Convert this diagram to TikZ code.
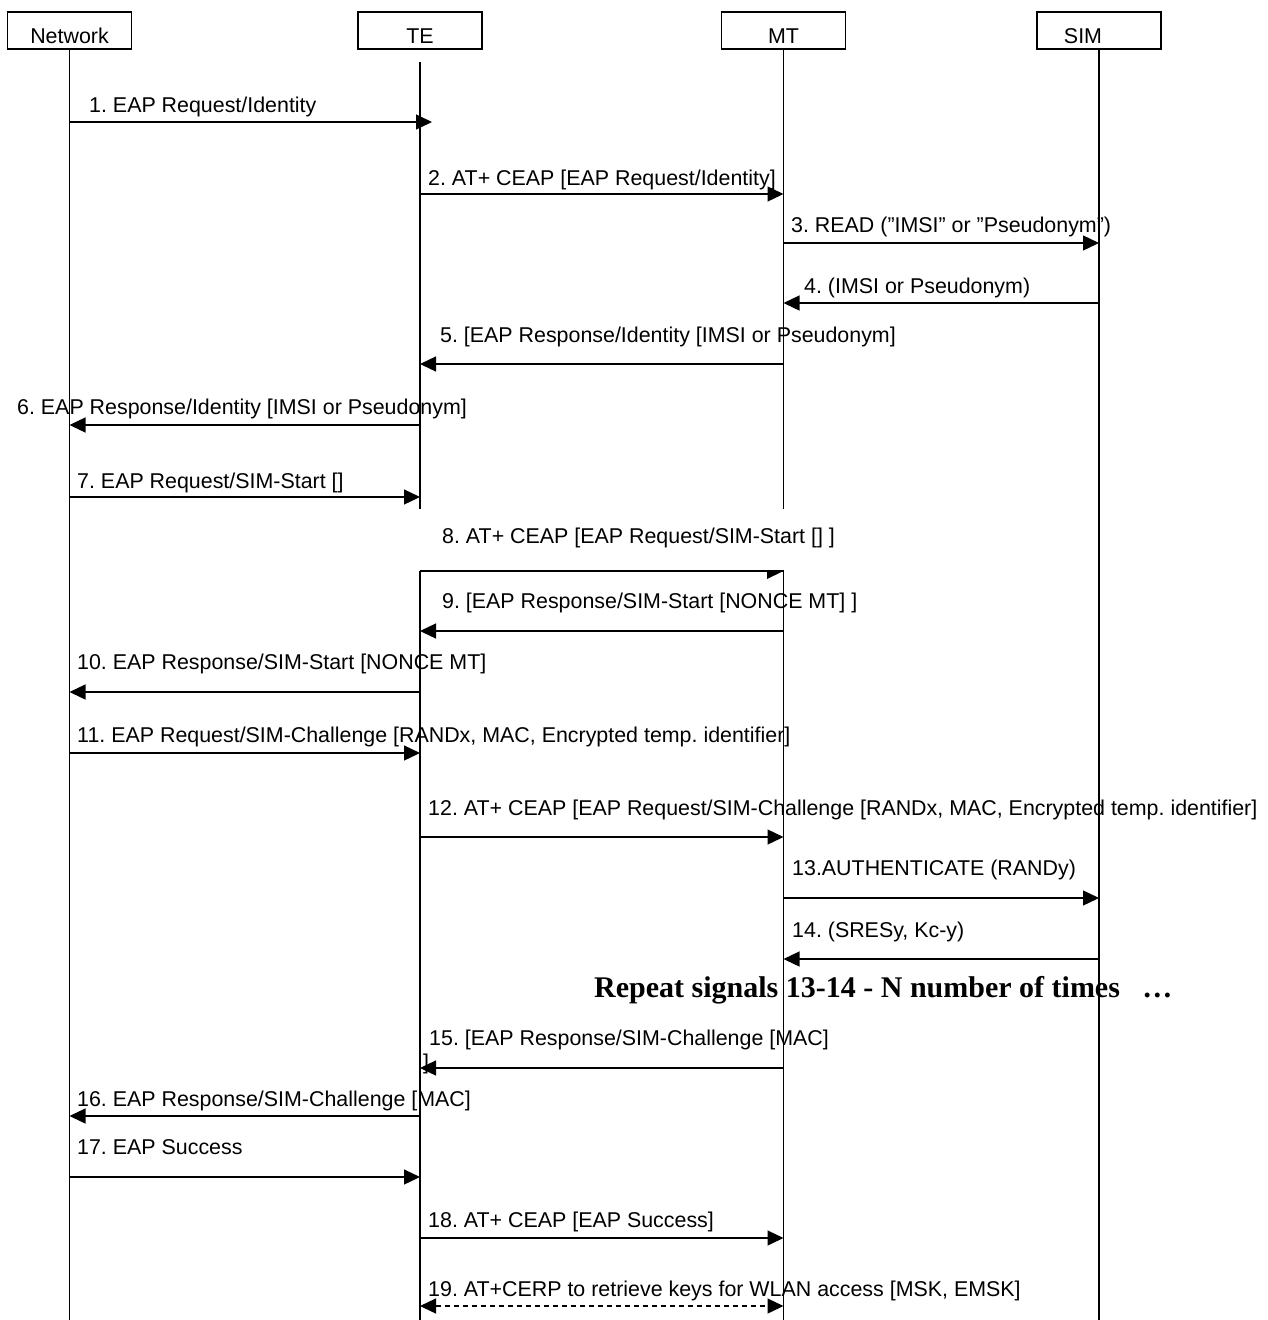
\documentclass[tikz,border=0pt]{standalone}
\usepackage{fontspec}
\setmainfont{Liberation Sans}
\newfontfamily\repfont{Liberation Serif}
\usetikzlibrary{arrows.meta}
\frenchspacing
\tikzset{
  entity/.style={draw, line width=1.2pt, minimum width=124pt, minimum height=37pt,
    inner sep=0pt, text height=26pt, text depth=0pt, font=\fontsize{21.4}{24}\selectfont},
  life/.style={line width=1.3pt},
  msg/.style={line width=1.3pt, -{Triangle[length=16pt,width=15pt]}},
  both/.style={line width=1.3pt, dash pattern=on 5pt off 4pt,
    {Triangle[length=16pt,width=15pt]}-{Triangle[length=16pt,width=15pt]}},
  msglbl/.style={anchor=base west, inner sep=0pt, font=\fontsize{21.4}{24}\selectfont},
}
\begin{document}
\begin{tikzpicture}[x=1pt, y=-1pt]
  \useasboundingbox (0,0) rectangle (1268,1320);
  % entities
  \node[entity] (net) at (69.5,30.5) {Network};
  \node[entity] (te) at (420,30.5) {TE};
  \node[entity] (mt) at (783.5,30.5) {MT};
  \node[entity] (sim) at (1099,30.5) {SIM\kern32pt};
  % lifelines
  \draw[life] (net.south) -- (net |- 0,1320);
  \draw[life] (te |- 0,62) -- (te |- 0,509);
  \draw[life] (te |- 0,571) -- (te |- 0,1320);
  \draw[life] (mt.south) -- (mt |- 0,509);
  \draw[life] (mt |- 0,571) -- (mt |- 0,1320);
  \draw[life] (sim.south) -- (sim |- 0,1320);
  % messages
  \coordinate (a1) at (432,122);
  \node[msglbl] (m1) at (89,112) {1. EAP Request/Identity};
  \draw[msg] (net |- 0,122) -- (a1);
  \node[msglbl] (m2) at (428,185) {2. AT+ CEAP [EAP Request/Identity]};
  \draw[msg] (te |- 0,194) -- (mt |- 0,194);
  \node[msglbl] (m3) at (791,232) {3. READ (”IMSI” or ”Pseudonym”)};
  \draw[msg] (mt |- 0,243) -- (sim |- 0,243);
  \node[msglbl] (m4) at (804,293) {4. (IMSI or Pseudonym)};
  \draw[msg] (sim |- 0,303) -- (mt |- 0,303);
  \node[msglbl] (m5) at (440,342) {5. [EAP Response/Identity [IMSI or Pseudonym]};
  \draw[msg] (mt |- 0,364) -- (te |- 0,364);
  \node[msglbl] (m6) at (17,414) {6. EAP Response/Identity [IMSI or Pseudonym]};
  \draw[msg] (te |- 0,425) -- (net |- 0,425);
  \node[msglbl] (m7) at (77,488) {7. EAP Request/SIM-Start []};
  \draw[msg] (net |- 0,497) -- (te |- 0,497);
  \node[msglbl] (m8) at (442,543) {8. AT+ CEAP [EAP Request/SIM-Start [] ]};
  \draw[life] (te |- 0,571) -- (mt |- 0,571);
  \fill (767,571) -- (mt |- 0,571) -- (767,579) -- cycle;
  \node[msglbl] (m9) at (442,608) {9. [EAP Response/SIM-Start [NONCE MT] ]};
  \draw[msg] (mt |- 0,631) -- (te |- 0,631);
  \node[msglbl] (m10) at (77,669) {10. EAP Response/SIM-Start [NONCE MT]};
  \draw[msg] (te |- 0,692) -- (net |- 0,692);
  \node[msglbl] (m11) at (77,742) {11. EAP Request/SIM-Challenge [RANDx, MAC, Encrypted temp. identifier]};
  \draw[msg] (net |- 0,753) -- (te |- 0,753);
  \node[msglbl] (m12) at (428,815) {12. AT+ CEAP [EAP Request/SIM-Challenge [RANDx, MAC, Encrypted temp. identifier]};
  \draw[msg] (te |- 0,837) -- (mt |- 0,837);
  \node[msglbl] (m13) at (792,875) {13.AUTHENTICATE (RANDy)};
  \draw[msg] (mt |- 0,898) -- (sim |- 0,898);
  \node[msglbl] (m14) at (792,937) {14. (SRESy, Kc-y)};
  \draw[msg] (sim |- 0,959) -- (mt |- 0,959);
  \node[anchor=base west, inner sep=0pt, font=\repfont\bfseries\fontsize{30}{32}\selectfont]
    (rep) at (594,997) {Repeat signals 13-14 - N number of times\ \ \ …};
  \node[msglbl] (m15) at (429,1045) {15. [EAP Response/SIM-Challenge [MAC]};
  \node[msglbl] (m15b) at (423,1069) {]};
  \draw[msg] (mt |- 0,1068) -- (te |- 0,1068);
  \node[msglbl] (m16) at (77,1106) {16. EAP Response/SIM-Challenge [MAC]};
  \draw[msg] (te |- 0,1116) -- (net |- 0,1116);
  \node[msglbl] (m17) at (77,1154) {17. EAP Success};
  \draw[msg] (net |- 0,1177) -- (te |- 0,1177);
  \node[msglbl] (m18) at (428,1227) {18. AT+ CEAP [EAP Success]};
  \draw[msg] (te |- 0,1238) -- (mt |- 0,1238);
  \node[msglbl] (m19) at (428,1296) {19. AT+CERP to retrieve keys for WLAN access [MSK, EMSK]};
  \draw[both] (te |- 0,1306) -- (mt |- 0,1306);
\end{tikzpicture}
\end{document}
